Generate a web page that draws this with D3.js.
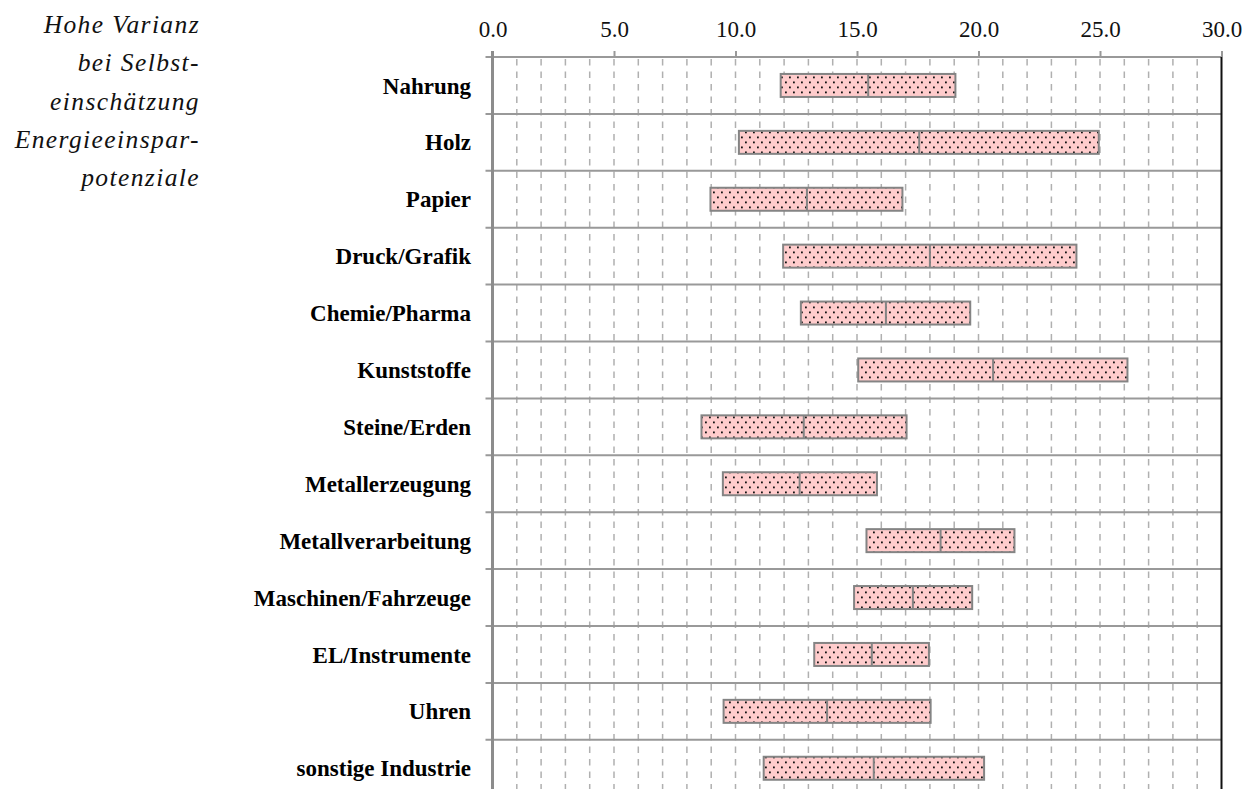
<!DOCTYPE html>
<html>
<head>
<meta charset="utf-8">
<script src="https://cdn.jsdelivr.net/npm/d3@7"></script>
<style>
  html, body { margin: 0; padding: 0; background: #fff; overflow: hidden; }
  svg { display: block; }
</style>
</head>
<body>
<svg id="chart"></svg>
<script>
// branches, top to bottom
const categories = ["Nahrung", "Holz", "Papier", "Druck/Grafik", "Chemie/Pharma", "Kunststoffe",
                    "Steine/Erden", "Metallerzeugung", "Metallverarbeitung", "Maschinen/Fahrzeuge",
                    "EL/Instrumente", "Uhren", "sonstige Industrie"];
// low end, middle line, high end of each range
const lows    = [11.86, 10.14, 8.97, 11.96, 12.69, 15.05, 8.60, 9.48, 15.39, 14.88, 13.24, 9.51, 11.16];
const medians = [15.46, 17.56, 12.94, 18.00, 16.19, 20.60, 12.81, 12.64, 18.44, 17.30, 15.61, 13.77, 15.69];
const highs   = [19.05, 24.95, 16.87, 24.03, 19.66, 26.13, 17.04, 15.82, 21.48, 19.74, 17.96, 18.03, 20.23];
const majorTicks = [0, 5, 10, 15, 20, 25, 30];
const noteLines = ["Hohe Varianz", "bei Selbst-", "einschätzung", "Energieeinspar-", "potenziale"];

const W = 1252, H = 789;
const plotLeft = 492.5, plotRight = 1221.5, plotTop = 57, rowH = 56.9;

const data = categories.map((c, i) => ({ cat: c, low: lows[i], mid: medians[i], high: highs[i] }));

const svg = d3.select("#chart").attr("width", W).attr("height", H);

// dotted pink fill
const pat = svg.append("defs").append("pattern")
    .attr("id", "dots")
    .attr("patternUnits", "userSpaceOnUse")
    .attr("width", 8).attr("height", 10);
pat.append("rect").attr("width", 8).attr("height", 10).attr("fill", "#ffcccc");
pat.append("rect").attr("x", 1).attr("y", 1.5).attr("width", 1.8).attr("height", 1.8).attr("fill", "#111");
pat.append("rect").attr("x", 5).attr("y", 6.5).attr("width", 1.8).attr("height", 1.8).attr("fill", "#111");

const x = d3.scaleLinear().domain([0, 30]).range([plotLeft, plotRight]);
const y = d3.scaleBand().domain(categories).range([plotTop, plotTop + rowH * categories.length]);

// dashed gridlines at every unit
svg.append("g").selectAll("line")
    .data(d3.range(1, 30))
    .enter().append("line")
    .attr("x1", d => x(d)).attr("x2", d => x(d))
    .attr("y1", plotTop + 2).attr("y2", H + 10)
    .attr("stroke", "#b0b0b0")
    .attr("stroke-width", 1.5)
    .attr("stroke-dasharray", "6.5,6");

// row separators
svg.append("g").selectAll("line")
    .data(categories)
    .enter().append("line")
    .attr("x1", plotLeft - 7).attr("x2", plotRight)
    .attr("y1", d => y(d) + y.bandwidth()).attr("y2", d => y(d) + y.bandwidth())
    .attr("stroke", "#999")
    .attr("stroke-width", 2);

// top axis
const xAxis = d3.axisTop(x)
    .tickValues(majorTicks)
    .tickSize(6)
    .tickFormat(d3.format(".1f"));
const ax = svg.append("g")
    .attr("transform", `translate(0,${plotTop})`)
    .call(xAxis);
ax.select(".domain").remove();
ax.selectAll(".tick line").attr("stroke", "#999").attr("stroke-width", 2);
ax.selectAll(".tick text")
    .attr("y", -20)
    .attr("dy", 0)
    .attr("fill", "#111")
    .style("font-family", "'Liberation Serif', 'Times New Roman', serif")
    .style("font-size", "23px");
svg.append("line")
    .attr("x1", plotLeft - 7).attr("x2", plotRight)
    .attr("y1", plotTop).attr("y2", plotTop)
    .attr("stroke", "#999").attr("stroke-width", 2);

// left axis and right border
svg.append("line")
    .attr("x1", plotLeft).attr("x2", plotLeft)
    .attr("y1", plotTop - 6).attr("y2", H + 10)
    .attr("stroke", "#8c8c8c").attr("stroke-width", 3);
svg.append("line")
    .attr("x1", plotRight).attr("x2", plotRight)
    .attr("y1", plotTop).attr("y2", H + 10)
    .attr("stroke", "#111").attr("stroke-width", 2);

// range bars
const barH = 23;
const bars = svg.append("g").selectAll("g")
    .data(data)
    .enter().append("g");
bars.append("rect")
    .attr("x", d => x(d.low))
    .attr("y", d => y(d.cat) + y.bandwidth() / 2 - barH / 2)
    .attr("width", d => x(d.high) - x(d.low))
    .attr("height", barH)
    .attr("fill", "url(#dots)")
    .attr("stroke", "#848484")
    .attr("stroke-width", 2);
bars.append("line")
    .attr("x1", d => x(d.mid)).attr("x2", d => x(d.mid))
    .attr("y1", d => y(d.cat) + y.bandwidth() / 2 - barH / 2)
    .attr("y2", d => y(d.cat) + y.bandwidth() / 2 + barH / 2)
    .attr("stroke", "#848484")
    .attr("stroke-width", 2);

// category labels
svg.append("g").selectAll("text")
    .data(categories)
    .enter().append("text")
    .attr("x", 471)
    .attr("y", d => y(d) + y.bandwidth() / 2)
    .attr("dy", "0.35em")
    .attr("text-anchor", "end")
    .style("font-family", "'Liberation Serif', 'Times New Roman', serif")
    .style("font-weight", "bold")
    .style("font-size", "23px")
    .text(d => d);

// side note
svg.append("g").selectAll("text")
    .data(noteLines)
    .enter().append("text")
    .attr("x", 200)
    .attr("y", (d, i) => 33 + i * 38.3)
    .attr("text-anchor", "end")
    .attr("fill", "#111")
    .style("font-family", "'Liberation Serif', 'Times New Roman', serif")
    .style("font-style", "italic")
    .style("font-size", "25.5px")
    .style("letter-spacing", "1.4px")
    .text(d => d);
</script>
</body>
</html>
